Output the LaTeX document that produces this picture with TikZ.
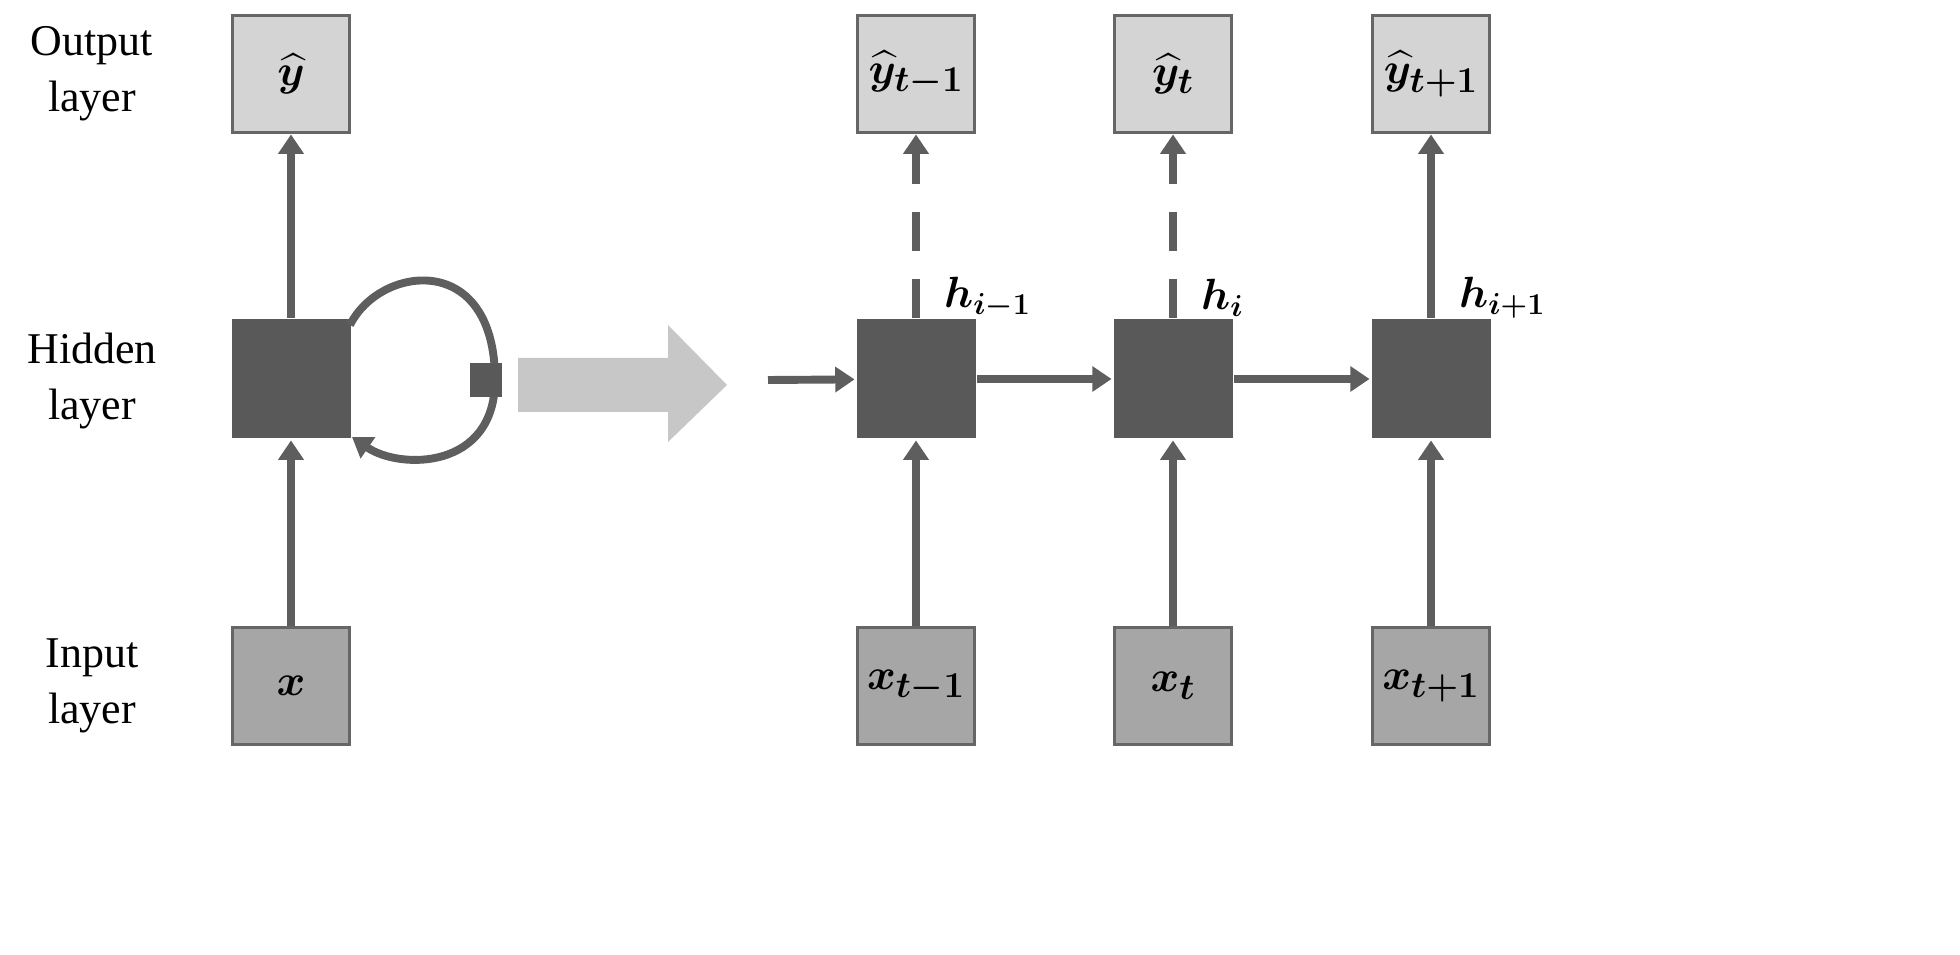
\documentclass[tikz,border=0pt]{standalone}
\usepackage{amsmath,bm}
\usepackage{fontspec}
\setmainfont{Liberation Serif}
\usetikzlibrary{arrows.meta}
\begin{document}
\begin{tikzpicture}[x=0.02cm,y=-0.02cm,
 box/.style={draw=black!60,line width=2.2pt,minimum size=117*0.02cm,inner sep=0pt,font=\fontsize{30}{34}\selectfont},
 obox/.style={box,fill=black!17},
 ibox/.style={box,fill=black!35},
 hbox/.style={box,draw=none,fill=black!65,minimum size=119*0.02cm},
 arr/.style={draw=black!63,line width=4.5pt,-{Triangle[length=11pt,width=14pt]}},
 dsh/.style={arr,dash pattern=on 22pt off 16pt},
 lab/.style={font=\fontsize{25}{32}\selectfont,align=center},
 hlab/.style={font=\fontsize{27}{30}\selectfont,anchor=west}]
\useasboundingbox (0,0) rectangle (1960,955);
% left column
\node[obox] (yo) at (291,74) {$\widehat{\bm y}$};
\node[hbox] (ho) at (291,379) {};
\node[ibox] (xo) at (291,686) {$\bm x$};
\draw[arr] (ho) -- (yo);
\draw[arr] (xo) -- (ho);
\coordinate (ls) at (350,325);
\coordinate (le) at (352,437);
\draw[arr] (ls) .. controls (380,265) and (495,250) .. (495,380) .. controls (495,470) and (400,470) .. (le);
\node[draw=none,fill=black!65,minimum width=32*0.02cm,minimum height=34*0.02cm,inner sep=0pt] (sq) at (486,380) {};
% labels
\node[lab] (lo) at (92,74) {Output\\layer};
\node[lab] (lh) at (92,381) {Hidden\\layer};
\node[lab] (li) at (92,686) {Input\\layer};
% big arrow
\fill[black!22] (518,358) -- (668,358) -- (668,325) -- (727,385) -- (668,442) -- (668,412) -- (518,412) -- cycle;
% unrolled
\foreach \n/\x/\yl/\xl/\hl in {a/916/{\widehat{\bm y}_{\bm{t-1}}}/{\bm x_{\bm{t-1}}}/{\bm h_{\bm{i-1}}},
 b/1173/{\widehat{\bm y}_{\bm t}}/{\bm x_{\bm t}}/{\bm h_{\bm i}},
 c/1431/{\widehat{\bm y}_{\bm{t+1}}}/{\bm x_{\bm{t+1}}}/{\bm h_{\bm{i+1}}}}{
 \node[obox] (y\n) at (\x,74) {$\yl$};
 \node[hbox] (h\n) at (\x,379) {};
 \node[ibox] (x\n) at (\x,686) {$\xl$};
 \draw[arr] (x\n) -- (h\n);
 \node[hlab] (t\n) at (\x+22,298) {$\hl$};
}
\draw[dsh] (ha) -- (ya);
\draw[dsh] (hb) -- (yb);
\draw[arr] (hc) -- (yc);
\coordinate (in) at (768,380);
\draw[arr] (in) -- (ha);
\draw[arr] (ha) -- (hb);
\draw[arr] (hb) -- (hc);
\end{tikzpicture}
\end{document}
